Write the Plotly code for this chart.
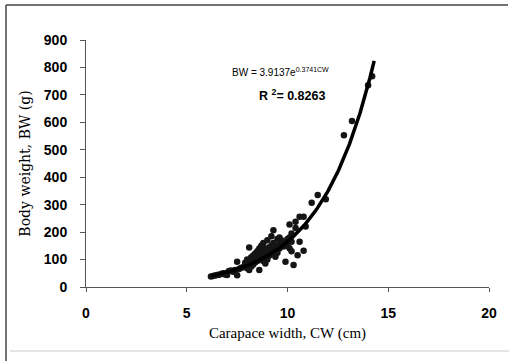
import numpy as np
import plotly.graph_objects as go

cw = [6.2, 6.3, 6.4, 6.5, 6.6, 6.7, 6.8, 6.9, 7.0, 7.0, 7.1, 7.2, 7.3, 7.4, 7.5, 7.5,
      7.6, 7.7, 7.8, 7.9, 7.9, 8.0, 8.0, 8.0, 8.1, 8.1, 8.1, 8.2, 8.2, 8.2, 8.3, 8.3,
      8.3, 8.4, 8.4, 8.4, 8.5, 8.5, 8.5, 8.5, 8.6, 8.6, 8.6, 8.6, 8.7, 8.7, 8.7, 8.7,
      8.8, 8.8, 8.8, 8.8, 8.9, 8.9, 8.9, 9.0, 9.0, 9.0, 9.0, 9.1, 9.1, 9.1, 9.2, 9.2,
      9.2, 9.3, 9.3, 9.3, 9.3, 9.4, 9.4, 9.4, 9.5, 9.5, 9.5, 9.6, 9.6, 9.6, 9.7, 9.7,
      9.8, 9.8, 9.9, 9.9, 10.0, 10.0, 10.1, 10.1, 10.1, 10.2, 10.2, 10.2, 10.3, 10.4,
      10.4, 10.5, 10.6, 10.6, 10.8, 10.8, 10.9, 11.2, 11.5, 11.9, 12.8, 13.2, 14.0, 14.2]
bw = [38, 40, 42, 44, 45, 47, 50, 46, 52, 44, 58, 60, 56, 62, 43, 92,
      66, 70, 72, 88, 76, 80, 100, 68, 144, 85, 62, 92, 108, 75, 98, 115,
      82, 100, 122, 90, 105, 130, 95, 118, 62, 110, 140, 125, 100, 150, 118, 135,
      108, 128, 160, 95, 86, 120, 140, 112, 130, 170, 100, 125, 145, 115, 130, 185,
      150, 207, 140, 120, 160, 110, 150, 135, 175, 145, 125, 180, 155, 140, 170, 150,
      165, 148, 92, 160, 175, 150, 228, 141, 180, 165, 195, 130, 80, 238,
      215, 116, 165, 256, 256, 132, 220, 307, 335, 320, 553, 605, 735, 768]

# Fitted exponential trend (from the displayed equation)
fit_a = 3.9137
fit_b = 0.3741
fit_range = [6.2, 14.3]

x_ticks = [0, 5, 10, 15, 20]
y_ticks = [0, 100, 200, 300, 400, 500, 600, 700, 800, 900]

xf = np.linspace(fit_range[0], fit_range[1], 200)
yf = fit_a * np.exp(fit_b * xf)

fig = go.Figure()
fig.add_trace(go.Scatter(x=cw, y=bw, mode="markers",
                         marker=dict(size=6.5, color="#151515"), showlegend=False))
fig.add_trace(go.Scatter(x=xf, y=yf, mode="lines",
                         line=dict(color="#000000", width=3.5), showlegend=False))

W, H = 509, 361
L, R, T, B = 86, 20, 40, 74
pw, ph = W - L - R, H - T - B

def px(xp):
    return (xp - L) / pw

def py(yp):
    return (H - B - yp) / ph

tickfont = dict(family="Arial, Liberation Sans", size=14, color="#000", weight="bold")

fig.update_layout(
    width=W, height=H,
    margin=dict(l=L, r=R, t=T, b=B),
    paper_bgcolor="white", plot_bgcolor="white",
    xaxis=dict(range=[0, 20], tickvals=x_ticks, showgrid=False, zeroline=False,
               showline=True, linecolor="#555", linewidth=1,
               ticks="outside", ticklen=4, tickcolor="#555",
               tickfont=tickfont, ticklabelstandoff=9,
               title=dict(text="Carapace width, CW (cm)", standoff=7,
                          font=dict(family="Liberation Serif, Times New Roman", size=15, color="#000"))),
    yaxis=dict(range=[0, 900], tickvals=y_ticks, showgrid=False, zeroline=False,
               showline=True, linecolor="#555", linewidth=1,
               ticks="outside", ticklen=5, tickcolor="#555",
               tickfont=tickfont, ticklabelstandoff=10,
               title=dict(text="Body weight, BW (g)", standoff=9,
                          font=dict(family="DejaVu Serif", size=14, color="#000"))),
    shapes=[
        dict(type="line", xref="paper", yref="paper", x0=px(6), x1=px(508), y0=py(5), y1=py(5),
             line=dict(color="#444", width=1.5)),
        dict(type="line", xref="paper", yref="paper", x0=px(6), x1=px(6), y0=py(5), y1=py(361),
             line=dict(color="#444", width=1.5)),
        dict(type="line", xref="paper", yref="paper", x0=px(10), x1=px(509), y0=py(351), y1=py(351),
             line=dict(color="#ccc", width=1)),
    ],
    annotations=[
        dict(xref="paper", yref="paper", x=px(230), y=py(72), xanchor="left", yanchor="middle",
             text="BW = 3.9137e<sup>0.3741CW</sup>", showarrow=False,
             font=dict(family="Liberation Sans Narrow, Arial", size=10, color="#000")),
        dict(xref="paper", yref="paper", x=px(257), y=py(95), xanchor="left", yanchor="middle",
             text="<b>R <sup>2</sup>= 0.8263</b>", showarrow=False,
             font=dict(family="Liberation Sans Narrow, Arial", size=12.5, color="#000")),
    ],
)
fig.write_html("out.html", config={"displayModeBar": False},
               post_script="document.body.style.margin='0';")
